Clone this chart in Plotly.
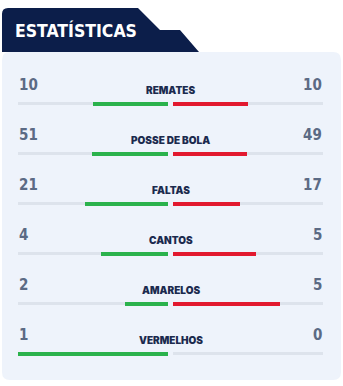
import plotly.graph_objects as go

# ---- data ----
labels = ["REMATES", "POSSE DE BOLA", "FALTAS", "CANTOS", "AMARELOS", "VERMELHOS"]
home = [10, 51, 21, 4, 2, 1]
away = [10, 49, 17, 5, 5, 0]
title = "ESTATÍSTICAS"

W, H = 343, 386
CX, HALF, GAP = 170.5, 150.0, 2.5   # pixel geometry of the bar layout
g = GAP / HALF
ROW0, STEP = 103.5, 50

GREEN = "#2bb24c"
RED = "#e2192f"
TRACK = "#dde3ec"
PANEL = "#eef3fb"
NAVY = "#0c1e4a"
NUM = "#5b6a84"
LAB = "#1b2a4e"
COND = "DejaVu Sans Condensed, sans-serif"

fig = go.Figure()


def seg(a, b, y, color, thick):
    if b - a <= 0:
        return
    fig.add_trace(go.Bar(
        orientation="h", y=[y], x=[b - a], base=[a], width=[thick],
        marker=dict(color=color, line=dict(width=0)),
        hoverinfo="skip", showlegend=False))


ys = [ROW0 + STEP * i for i in range(len(labels))]
for lab, h, a, y in zip(labels, home, away, ys):
    tot = h + a
    sh = h / tot if tot else 0
    sa = a / tot if tot else 0
    seg(-g - 1, -g, y, TRACK, 3)
    seg(g, g + 1, y, TRACK, 3)
    seg(-g - sh, -g, y, GREEN, 4)
    seg(g, g + sa, y, RED, 4)

annotations = []
for lab, h, a, y in zip(labels, home, away, ys):
    annotations.append(dict(x=-g - 1 - 0.007, y=y - 19, xref="x", yref="y", text=str(h),
                            showarrow=False, xanchor="left", yanchor="middle",
                            font=dict(family=COND, size=15, color=NUM, weight="bold")))
    annotations.append(dict(x=g + 1 + 0.007, y=y - 19, xref="x", yref="y", text=str(a),
                            showarrow=False, xanchor="right", yanchor="middle",
                            font=dict(family=COND, size=15, color=NUM, weight="bold")))
    annotations.append(dict(x=0, y=y - 13.5, xref="x", yref="y", text=lab,
                            showarrow=False, xanchor="center", yanchor="middle",
                            font=dict(family="Inter", size=10, color=LAB, weight=900)))


def P(x, y):
    return f"{x / W:.5f},{1 - y / H:.5f}"


panel_path = ("M " + P(2, 60) + " Q " + P(2, 52) + " " + P(10, 52) +
              " L " + P(333, 52) + " Q " + P(341, 52) + " " + P(341, 60) +
              " L " + P(341, 372) + " Q " + P(341, 380) + " " + P(333, 380) +
              " L " + P(10, 380) + " Q " + P(2, 380) + " " + P(2, 372) + " Z")
header_path = ("M " + P(2, 52) + " L " + P(2, 14) + " Q " + P(2, 8) + " " + P(8, 8) +
               " L " + P(138, 8) + " L " + P(160, 30) + " L " + P(180, 30) +
               " L " + P(199, 52) + " Z")

shapes = [
    dict(type="path", xref="paper", yref="paper", path=panel_path,
         fillcolor=PANEL, line=dict(width=0), layer="below"),
    dict(type="path", xref="paper", yref="paper", path=header_path,
         fillcolor=NAVY, line=dict(width=0), layer="below"),
]

annotations.append(dict(x=13 / W, y=1 - 30 / H, xref="paper", yref="paper", text=title,
                        showarrow=False, xanchor="left", yanchor="middle",
                        font=dict(family=COND, size=17.5, color="white", weight="bold")))

fig.update_layout(
    width=W, height=H, autosize=False,
    margin=dict(l=0, r=0, t=0, b=0, pad=0),
    paper_bgcolor="white", plot_bgcolor="rgba(0,0,0,0)",
    barmode="overlay", bargap=0,
    xaxis=dict(range=[(0 - CX) / HALF, (W - CX) / HALF], visible=False, fixedrange=True),
    yaxis=dict(range=[H, 0], visible=False, fixedrange=True),
    shapes=shapes, annotations=annotations,
    showlegend=False,
)

fig.write_html("out.html", config={"displayModeBar": False})
